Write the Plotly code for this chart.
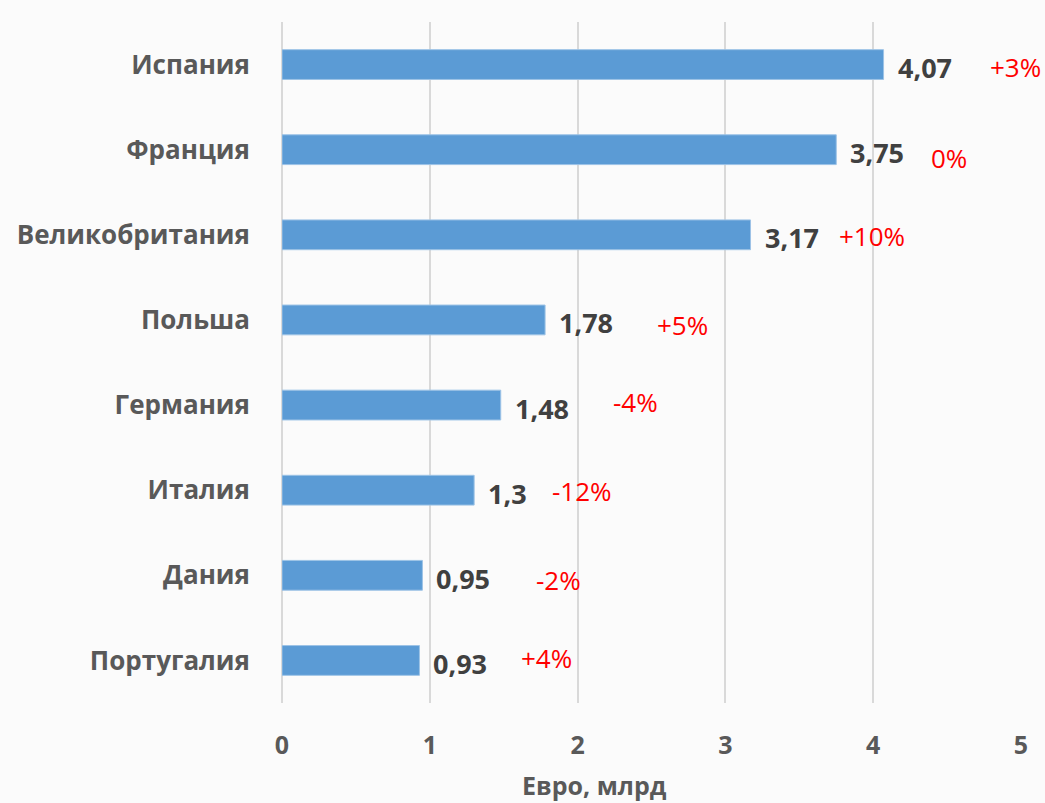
import plotly.graph_objects as go

countries = ["Испания", "Франция", "Великобритания", "Польша", "Германия", "Италия", "Дания", "Португалия"]
values = [4.07, 3.75, 3.17, 1.78, 1.48, 1.3, 0.95, 0.93]
value_labels = ["4,07", "3,75", "3,17", "1,78", "1,48", "1,3", "0,95", "0,93"]
changes = ["+3%", "0%", "+10%", "+5%", "-4%", "-12%", "-2%", "+4%"]
change_x = [4.96, 4.51, 3.99, 2.71, 2.39, 2.03, 1.87, 1.79]
change_dy = [-2, -8, -1, -5, 3, -1, -5, 2]
x_ticks = [0, 1, 2, 3, 4, 5]
x_title = "Евро, млрд"

FONT = "'Open Sans', Lato, sans-serif"

fig = go.Figure()
fig.add_trace(go.Bar(
    y=countries,
    x=values,
    orientation="h",
    width=0.35,
    marker=dict(color="#5B9BD5", line=dict(color="#9DC3E6", width=1)),
    hoverinfo="skip",
))

annotations = []
for c, v, lab in zip(countries, values, value_labels):
    annotations.append(dict(
        x=v, y=c, xref="x", yref="y", text=lab, showarrow=False,
        xanchor="left", xshift=12, yshift=-3,
        font=dict(family=FONT, size=27, color="#404040", weight="bold"),
    ))
for c, ch, cx, dy in zip(countries, changes, change_x, change_dy):
    annotations.append(dict(
        x=cx, y=c, xref="x", yref="y", text=ch, showarrow=False,
        xanchor="center", yshift=dy,
        font=dict(family=FONT, size=26, color="#FF0000"),
    ))
annotations.append(dict(
    x=0.4235, y=-0.12, xref="paper", yref="paper", text=x_title,
    showarrow=False, xanchor="center", yanchor="middle",
    font=dict(family=FONT, size=25, color="#595959", weight="bold"),
))

fig.update_layout(
    width=1045, height=803,
    margin=dict(l=282, r=24, t=22, b=100),
    paper_bgcolor="#fbfbfb",
    plot_bgcolor="rgba(0,0,0,0)",
    showlegend=False,
    annotations=annotations,
    xaxis=dict(
        range=[0, 5], tickvals=x_ticks, showgrid=True, gridcolor="#D9D9D9",
        gridwidth=2, zeroline=True, zerolinecolor="#D9D9D9", zerolinewidth=2,
        showline=False, ticks="", ticklabelstandoff=25,
        tickfont=dict(family=FONT, size=25, color="#595959", weight="bold"),
    ),
    yaxis=dict(
        categoryorder="array", categoryarray=countries, autorange="reversed",
        showgrid=False, zeroline=False, showline=False, ticks="",
        ticklabelstandoff=31,
        tickfont=dict(family=FONT, size=26, color="#595959", weight="bold"),
    ),
)

fig.write_html(
    "out.html",
    config={"displayModeBar": False},
    post_script="document.body.style.margin='0';document.body.style.overflow='hidden';",
)
